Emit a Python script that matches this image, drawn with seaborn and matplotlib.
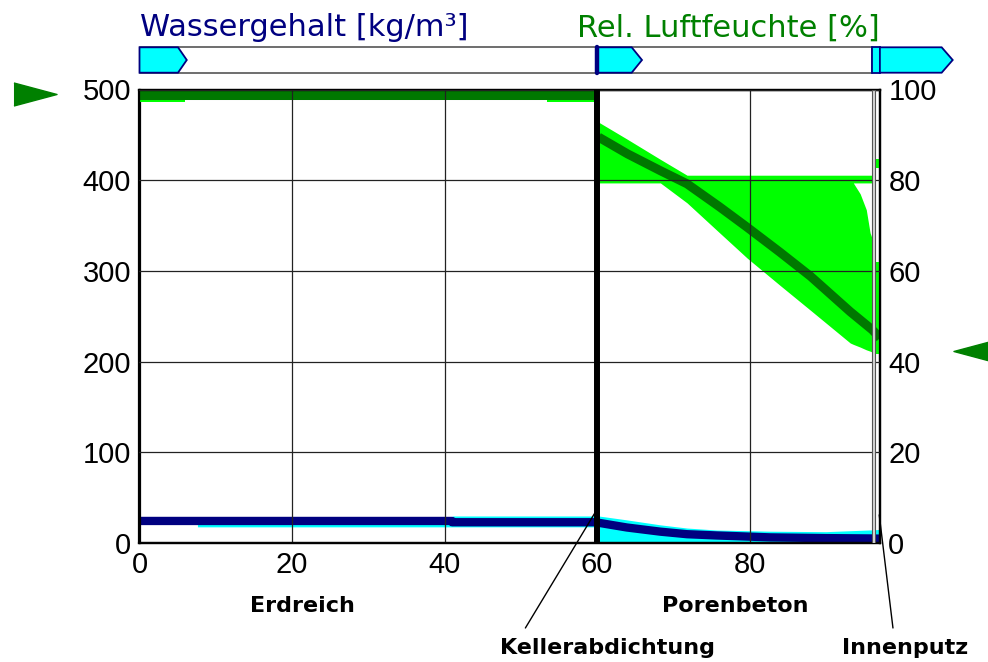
import matplotlib
matplotlib.use("Agg")
import matplotlib.pyplot as plt
import pandas as pd
import seaborn as sns
from matplotlib.patches import Polygon, Rectangle

# ---------------- data ----------------
# water content [kg/m3] (left axis)
wc_x = [0, 41, 41, 60, 60.2, 63.9, 68.3, 71.8, 75.7, 82.7, 90, 96.1, 97.1]
wc_mean = [24.3, 24.3, 22.9, 22.9, 22.3, 17.1, 12.5, 9.7, 8.3, 6.2, 5.4, 5.0, 4.8]
wc_env_x = [0, 7.6, 7.6, 41, 41, 60, 60.2, 63.9, 68.3, 71.8, 75.7, 82.7, 90, 96.1, 97.1]
wc_max = [28, 28, 28, 28, 29.8, 29.8, 29.8, 25.5, 20, 16.5, 14.3, 13, 12.5, 14.5, 15]
wc_min = [23, 23, 17.8, 17.8, 17.8, 17.8, 1.4, 1.4, 1.4, 1.2, 0.3, 0.3, 0.3, 0.3, 0.3]

# relative humidity [%] (right axis), one piece per layer
rh_x = [0, 60, 60.2, 64, 68.3, 71.8, 76, 79.7, 84, 88, 93.2, 96.1, 97.1]
rh_mean = [98.7, 98.7, 89.5, 85.8, 82.1, 79.2, 74.2, 69.6, 64.1, 58.8, 51.0, 47.0, 45.2]
rh_layer = ["Erdreich", "Erdreich"] + ["Porenbeton"] * 11

# envelope Erdreich
er_x = [0, 6, 6, 53.4, 53.4, 60]
er_min = [97.2, 97.2, 97.8, 97.8, 97.2, 97.2]
er_max = [99.6, 99.6, 99.6, 99.6, 99.6, 99.6]

# envelope Porenbeton
pb_x = [60.2, 64, 68.3, 71.8, 76, 79.7, 84, 88, 93.2, 93.6, 94.5, 95.3, 95.8, 96.1]
pb_min = [79.4, 79.4, 79.4, 75.0, 68.5, 62.8, 56.8, 51.3, 44.1, 43.8, 43.2, 42.6, 42.3, 42.1]
pb_max = [92.8, 89.0, 84.6, 81.1, 81.1, 81.1, 81.1, 81.1, 81.1, 81.1, 81.1, 81.1, 81.1, 81.1]
# gap near the inner surface that no profile reaches
gap_x = [93.6, 94.5, 95.3, 95.8, 96.1]
gap_lo = [79.4, 77.0, 73.5, 68.4, 67.0]
gap_hi = [79.4, 79.4, 79.4, 79.4, 79.4]

# envelope Innenputz
ip_x = [96.46, 97.1]
ip_min = [41.6, 41.6]
ip_max = [62.0, 62.0]
ip_peak_lo = [82.7, 82.7]
ip_peak_hi = [84.7, 84.7]

# boundary conditions (RH outside / inside)
rh_outside = 99.0
rh_inside = 42.4

layer_bounds = [0, 60, 96.03, 96.46, 97.1]
layer_names = ["Erdreich", "Kellerabdichtung", "Porenbeton", "Innenputz"]

NAVY = "#000080"
CYAN = "#00FFFF"
DGREEN = "#007800"
LGREEN = "#00FF00"
GREEN = "#008000"

sns.set_style("white")
plt.rcParams["font.family"] = ["DejaVu Sans"]

W, H = 988, 662
fig = plt.figure(figsize=(W / 100, H / 100), dpi=100)
x0, x1, ytop, ybot = 139.5, 880, 89.5, 543
ax = fig.add_axes([x0 / W, (H - ybot) / H, (x1 - x0) / W, (ybot - ytop) / H])
ax2 = ax.twinx()

ax.set_xlim(0, 97.1)
ax.set_ylim(0, 500)
ax2.set_ylim(0, 100)

# water content
ax.fill_between(wc_env_x, wc_min, wc_max, color=CYAN, lw=0)
sns.lineplot(x=wc_x, y=wc_mean, ax=ax, color=NAVY, lw=6, estimator=None,
             sort=False, solid_capstyle="butt")

# relative humidity
ax2.fill_between(er_x, er_min, er_max, color=LGREEN, lw=0, zorder=1)
ax2.fill_between(pb_x, pb_min, pb_max, color=LGREEN, lw=0, zorder=1)
ax2.fill_between(gap_x, gap_lo, gap_hi, color="white", lw=0, zorder=1.1)
ax2.fill_between(ip_x, ip_min, ip_max, color=LGREEN, lw=0, zorder=1)
ax2.fill_between(ip_x, ip_peak_lo, ip_peak_hi, color=LGREEN, lw=0, zorder=1)
rh_df = pd.DataFrame({"x": rh_x, "rh": rh_mean, "layer": rh_layer})
sns.lineplot(data=rh_df, x="x", y="rh", units="layer", ax=ax2, color=DGREEN,
             lw=6.5, estimator=None, sort=False, solid_capstyle="butt", zorder=2)

# grid on top
ax.grid(False)
ax2.set_axisbelow(False)
ax2.grid(axis="y", color="#222222", lw=0.9)
ax.set_xticks([0, 20, 40, 60, 80])
for xv in ax.get_xticks()[1:]:
    ax2.axvline(xv, color="#222222", lw=0.9, zorder=2.5)

# layer boundaries
ax2.axvline(layer_bounds[1], color="black", lw=4.3, zorder=3)
ax2.axvspan(layer_bounds[2], layer_bounds[3], facecolor="#d8d8d8",
            edgecolor="#555555", lw=0.8, zorder=3)

ax.set_yticks(range(0, 501, 100))
ax2.set_yticks(range(0, 101, 20))
for a in (ax, ax2):
    a.set_xlabel("")
    a.set_ylabel("")
    a.tick_params(length=0, labelsize=21, pad=6, colors="black",
                  labelfontfamily="Liberation Sans")
    for s in a.spines.values():
        s.set_color("black")
        s.set_linewidth(1.6)

# boundary condition triangles
tri = [(-1, -0.535), (1, 0), (-1, 0.535)]
ax2.plot([-13.7], [rh_outside], marker=tri, markersize=31, color=GREEN,
         clip_on=False, lw=0)
tri_l = [(1, -0.535), (-1, 0), (1, 0.535)]
ax2.plot([109.5], [rh_inside], marker=tri_l, markersize=31, color=GREEN,
         clip_on=False, lw=0)

# top bar with monitor positions
bx1 = 953
bar = fig.add_axes([x0 / W, (H - 72.7) / H, (bx1 - x0) / W, 25.4 / H])
bar.set_xlim(0, (bx1 - x0) / 7.625)
bar.set_ylim(0, 1)
bar.axis("off")
bar.add_patch(Rectangle((0, 0), 96.03, 1, facecolor="white",
                        edgecolor="#555555", lw=1.2, clip_on=False))


def arrow(xs, body, tip):
    bar.add_patch(Polygon([(xs, 0), (body, 0), (tip, 0.5), (body, 1), (xs, 1)],
                          closed=True, facecolor=CYAN, edgecolor=NAVY, lw=1.3,
                          clip_on=False))


arrow(0, 5.05, 6.2)
arrow(60, 64.55, 65.9)
bar.plot([60.05, 60.05], [0, 1], color=NAVY, lw=3.2, clip_on=False)
bar.add_patch(Rectangle((96.03, 0), 1.07, 1, facecolor=CYAN, edgecolor=NAVY,
                        lw=1.3, clip_on=False))
arrow(97.1, 105.2, 106.65)

# titles
fig.text(x0 / W, 1 - 36.5 / H, "Wassergehalt [kg/m³]", color=NAVY,
         fontsize=22, ha="left", va="baseline")
fig.text(x1 / W, 1 - 36.5 / H, "Rel. Luftfeuchte [%]", color=GREEN,
         fontsize=22, ha="right", va="baseline")

# layer labels
lab = dict(fontsize=16, fontweight="bold", ha="center", va="center",
           color="black")
fig.text(302 / W, 1 - 606 / H, layer_names[0], **lab)
fig.text(735 / W, 1 - 606 / H, layer_names[2], **lab)
fig.text(607 / W, 1 - 648 / H, layer_names[1], **lab)
fig.text(905 / W, 1 - 648 / H, layer_names[3], **lab)
ax.plot([59.7, 50.6], [33, -93.7], color="black", lw=1, clip_on=False)
ax.plot([97.0, 98.8], [31, -93.7], color="black", lw=1, clip_on=False)

fig.savefig("out.png", dpi=100, facecolor="white")
